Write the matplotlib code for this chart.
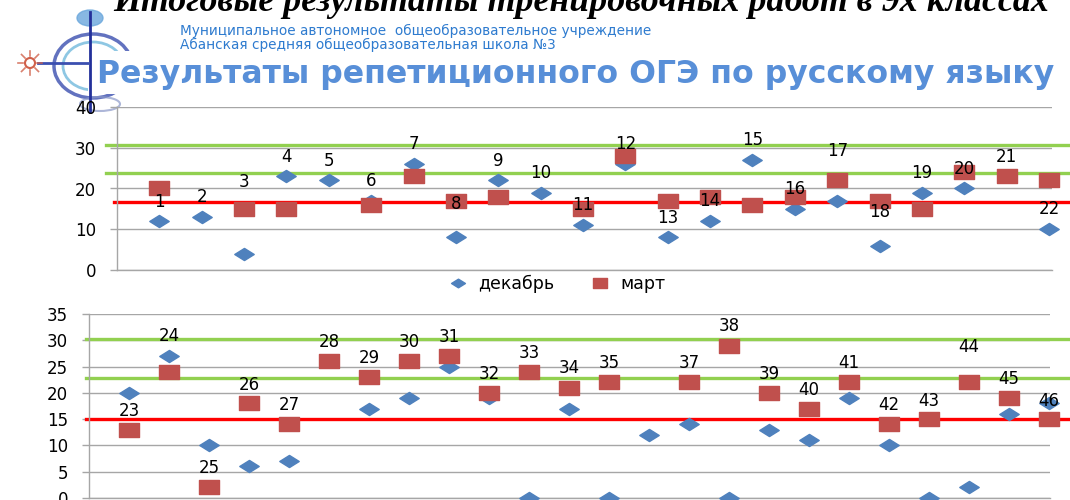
import numpy as np
import matplotlib
matplotlib.use("Agg")
import matplotlib.pyplot as plt
from matplotlib.path import Path
from matplotlib.lines import Line2D
from matplotlib.patches import Rectangle, Ellipse, Circle
import matplotlib.transforms as mtransforms

nan = np.nan

# ---------------- data ----------------
top_nums = list(range(1, 23))
top_dec = [12, 13, 4, 23, 22, 17, 26, 8, 22, 19, 11, 26, 8, 12, 27, 15, 17, 6, 19, 20, nan, 10]
top_mar = [20, nan, 15, 15, nan, 16, 23, 17, 18, nan, 15, 28, 17, 18, 16, 18, 22, 17, 15, 24, 23, 22]
top_lab_y = [16.7, 17.9, 21.6, 27.7, 26.7, 21.9, 30.9, 16.1, 26.7, 23.8, 15.9,
             30.9, 12.7, 17.0, 31.9, 20.0, 29.1, 14.3, 23.8, 24.8, 27.8, 14.9]
top_levels = [30.7, 23.7, 16.7]

bot_nums = list(range(23, 47))
bot_dec = [20, 27, 10, 6, 7, nan, 17, 19, 25, 19, 0, 17, 0, 12, 14, 0, 13, 11, 19, 10, 0, 2, 16, 18]
bot_mar = [13, 24, 2, 18, 14, 26, 23, 26, 27, 20, 24, 21, 22, nan, 22, 29, 20, 17, 22, 14, 15, 22, 19, 15]
bot_lab_y = [16.6, 30.9, 5.7, 21.5, 17.6, 29.6, 26.6, 29.6, 30.6, 23.6, 27.6, 24.7,
             25.6, nan, 25.6, 32.8, 23.6, 20.6, 25.6, 17.6, 18.5, 28.8, 22.7, 18.4]
bot_levels = [30.3, 22.8, 15.1]

legend_labels = ["декабрь", "март"]
header_top = "Итоговые результаты тренировочных работ в 9х классах"
school_1 = "Муниципальное автономное  общеобразовательное учреждение"
school_2 = "Абанская средняя общеобразовательная школа №3"
title = "Результаты репетиционного ОГЭ по русскому языку"

# ---------------- style ----------------
W, H = 1070, 500
BLUE = "#4f81bd"
RED_SQ = "#c0504d"
GREEN = "#92d050"
RED = "#ff0000"
GRID = "#a6a6a6"

# stretched markers (the original picture is widened)
diamond = Path([(0, 1), (1.6, 0), (0, -1), (-1.6, 0), (0, 1)],
               [Path.MOVETO, Path.LINETO, Path.LINETO, Path.LINETO, Path.CLOSEPOLY])
square = Path([(-1.5, -1), (1.5, -1), (1.5, 1), (-1.5, 1), (-1.5, -1)],
              [Path.MOVETO, Path.LINETO, Path.LINETO, Path.LINETO, Path.CLOSEPOLY])

fig = plt.figure(figsize=(W / 100, H / 100), dpi=100)


def px_axes(left, top, right, bottom):
    return fig.add_axes([left / W, 1 - bottom / H, (right - left) / W, (bottom - top) / H])


def draw_chart(ax, nums, dec, mar, lab_y, levels, ymax, ystep, xmax, line_starts):
    x = np.arange(1, len(nums) + 1)
    ax.plot(x, dec, ls="none", marker=diamond, ms=14, color=BLUE, mec=BLUE,
            clip_on=False, zorder=3)
    ax.plot(x, mar, ls="none", marker=square, ms=14.5, color=RED_SQ, mec=RED_SQ,
            clip_on=False, zorder=4)
    for xi, n, ly in zip(x, nums, lab_y):
        if np.isnan(ly):
            continue
        ax.text(xi, ly, str(n), ha="center", va="center", fontsize=12,
                color="black", zorder=6)

    trans = mtransforms.blended_transform_factory(fig.transFigure, ax.transData)
    colors = [GREEN, GREEN, RED]
    for lev, c, xs in zip(levels, colors, line_starts):
        ax.plot([xs / W, 1.0], [lev, lev], color=c, lw=2.4, transform=trans,
                clip_on=False, zorder=2.5)

    ax.set_xlim(0, xmax)
    ax.set_ylim(0, ymax)
    ax.set_yticks(np.arange(0, ymax + 1, ystep))
    ax.set_xticks([])
    ax.yaxis.grid(True, color=GRID, lw=1)
    ax.set_axisbelow(True)
    for s in ["top", "right"]:
        ax.spines[s].set_visible(False)
    for s in ["left", "bottom"]:
        ax.spines[s].set_color(GRID)
        ax.spines[s].set_linewidth(1)
    ax.tick_params(axis="y", length=5, color=GRID, width=1, pad=10,
                   labelsize=12, labelcolor="black")
    ax.patch.set_alpha(0)


ax1 = px_axes(117, 107, 1052, 270)
draw_chart(ax1, top_nums, top_dec, top_mar, top_lab_y, top_levels, 40, 10, 22.07,
           [106, 106, 114])

ax2 = px_axes(89, 314, 1050, 498)
draw_chart(ax2, bot_nums, bot_dec, bot_mar, bot_lab_y, bot_levels, 35, 5, 24.03,
           [86, 86, 86])

handles = [Line2D([], [], ls="none", marker=diamond, ms=10, color=BLUE),
           Line2D([], [], ls="none", marker=square, ms=10.5, color=RED_SQ)]
fig.legend(handles, legend_labels, loc="center", bbox_to_anchor=(553 / W, 1 - 284 / H),
           ncol=2, frameon=False, fontsize=12.5, handletextpad=0.2, columnspacing=1.6)

# ---------------- header (pixel coordinates) ----------------
hd = fig.add_axes([0, 0, 1, 1], zorder=-1)
hd.set_xlim(0, W)
hd.set_ylim(H, 0)
hd.axis("off")

# rough emblem at the left
hd.add_patch(Ellipse((93, 66), 78, 64, fill=False, ec="#3b4fb0", lw=2.5, alpha=0.8))
hd.add_patch(Ellipse((93, 66), 60, 48, fill=False, ec="#5fb0d8", lw=2, alpha=0.7))
hd.plot([90, 90], [12, 112], color="#23309a", lw=2)
hd.plot([38, 88], [63, 63], color="#3b4fb0", lw=2)
hd.add_patch(Ellipse((90, 18), 26, 16, color="#6aa7dc", alpha=0.8))
hd.add_patch(Circle((30, 63), 5, fc="none", ec="#d0604a", lw=1.5))
for a in np.linspace(0, 2 * np.pi, 9)[:-1]:
    hd.plot([30 + 7 * np.cos(a), 30 + 12 * np.cos(a)], [63 + 7 * np.sin(a), 63 + 12 * np.sin(a)],
            color="#d0604a", lw=1.2, alpha=0.8)
hd.add_patch(Ellipse((100, 104), 40, 14, fill=False, ec="#8a98c8", lw=1.5, alpha=0.7))

# white box behind the title
hd.add_patch(Rectangle((88, 51), W - 88, 43, fc="white", ec="none"))

hd.text(581, 11, header_top, ha="center", va="baseline", fontsize=25.8,
        family="Liberation Serif", style="italic", weight="bold", color="black")
hd.text(180, 31, school_1, ha="left", va="center", fontsize=9.8, color="#2e7bcf")
hd.text(180, 45, school_2, ha="left", va="center", fontsize=9.8, color="#2e7bcf")
hd.text(97, 74, title, ha="left", va="center", fontsize=22.7, weight="bold", color="#588fd8")

fig.savefig("out.png", dpi=100)
